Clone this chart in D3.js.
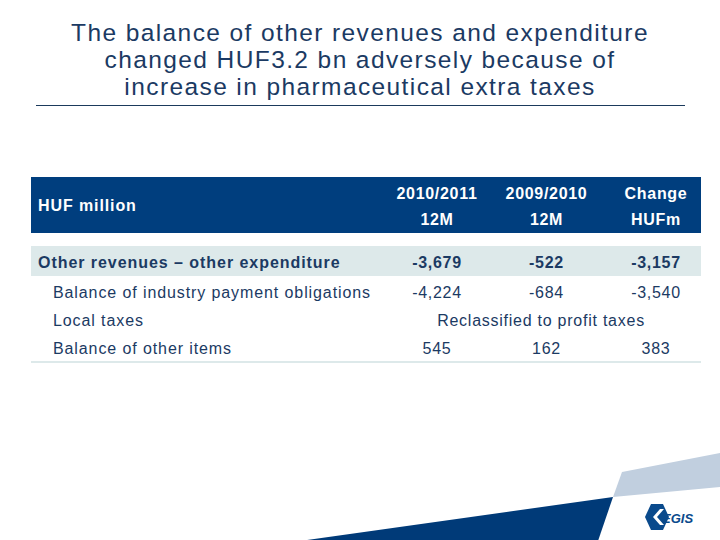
<!DOCTYPE html>
<html><head><meta charset="utf-8">
<script src="https://cdn.jsdelivr.net/npm/d3@7/dist/d3.min.js"></script>
<style>html,body{margin:0;padding:0;background:#fff}svg{display:block}</style>
</head><body>
<svg id="c" width="720" height="540"></svg>
<script>
const titleLines = ["The balance of other revenues and expenditure","changed HUF3.2 bn adversely because of","increase in pharmaceutical extra taxes"];
const headerLabel = "HUF million";
const columns = [["2010/2011","12M"],["2009/2010","12M"],["Change","HUFm"]];
const rowLabels = ["Other revenues – other expenditure","Balance of industry payment obligations","Local taxes","Balance of other items"];
const rowLevel = [0,1,1,1];
const col2011 = ["-3,679","-4,224",null,"545"];
const col2010 = ["-522","-684",null,"162"];
const colChange = ["-3,157","-3,540",null,"383"];
const spanNotes = [null,null,"Reclassified to profit taxes",null];

const svg = d3.select("#c");
const navy = "#1b3a63", band = "#003e7e", pale = "#dde9ea";
const font = "Liberation Sans, Arial, sans-serif";

// decorative background shapes
svg.append("polygon").attr("points","622,472 720,453 720,487 613,497").attr("fill","#c1cfdf");
svg.append("polygon").attr("points","300,541 613,497 598,541").attr("fill","#003a78");

// logo
const lg = svg.append("g").attr("transform","translate(645,504)");
lg.append("polygon").attr("points","6,0 18,0 24,13 18,26 6,26 0,13").attr("fill","#0a4a8c");
lg.append("polygon").attr("points","15,5 8,13 15,21 19,21 12,13 19,5").attr("fill","#fff");
lg.append("text").attr("x",17).attr("y",19).attr("font-family",font).attr("font-size",13)
  .attr("font-weight","bold").attr("font-style","italic").attr("fill","#0a4a8c").text("EGIS");

// title
svg.append("g").selectAll("text").data(titleLines).join("text")
  .attr("x",360).attr("y",(d,i)=>41+i*27).attr("text-anchor","middle")
  .attr("font-family",font).attr("font-size",24.5).attr("letter-spacing",1.4)
  .attr("fill",navy).text(d=>d);
svg.append("line").attr("x1",36).attr("x2",685).attr("y1",105.5).attr("y2",105.5)
  .attr("stroke","#1b3a5c").attr("stroke-width",1);

// table scales
const x = d3.scalePoint().domain(d3.range(columns.length)).range([437,656]);

// header
svg.append("rect").attr("x",31).attr("y",177).attr("width",670).attr("height",56).attr("fill",band);
svg.append("text").attr("x",38).attr("y",211).attr("font-family",font).attr("font-size",16)
  .attr("letter-spacing",0.9).attr("font-weight","bold").attr("fill","#fff").text(headerLabel);
const hg = svg.append("g").selectAll("g").data(columns).join("g");
hg.selectAll("text").data((d,i)=>d.map(t=>({t,i}))).join("text")
  .attr("x",d=>x(d.i)).attr("y",(d,j)=>199+j*26).attr("text-anchor","middle")
  .attr("font-family",font).attr("font-size",16).attr("letter-spacing",0.7)
  .attr("font-weight","bold").attr("fill","#fff")
  .text(d=>d.t);

// body
svg.append("rect").attr("x",31).attr("y",246).attr("width",670).attr("height",30).attr("fill",pale);
svg.append("rect").attr("x",31).attr("y",361).attr("width",670).attr("height",2).attr("fill",pale);

const rowY = d3.scaleOrdinal().domain(d3.range(rowLabels.length)).range([262,292,320,348]);
const rows = svg.append("g").selectAll("g").data(rowLabels).join("g")
  .attr("transform",(d,i)=>`translate(0,${rowY(i)})`);
rows.append("text").attr("x",(d,i)=>rowLevel[i]?53:38).attr("dy","0.35em")
  .attr("font-family",font).attr("font-size",16)
  .attr("letter-spacing",(d,i)=>rowLevel[i]?0.9:0.95)
  .attr("font-weight",(d,i)=>rowLevel[i]?"normal":"bold").attr("fill",navy).text(d=>d);
rows.each(function(d,i){
  const g = d3.select(this);
  const vals = [col2011[i],col2010[i],colChange[i]];
  if (spanNotes[i]) {
    g.append("text").attr("x",541).attr("dy","0.35em").attr("text-anchor","middle")
      .attr("font-family",font).attr("font-size",16).attr("letter-spacing",0.75)
      .attr("fill",navy).text(spanNotes[i]);
  } else {
    g.selectAll("text.v").data(vals).join("text").attr("class","v")
      .attr("x",(v,j)=>x(j)).attr("dy","0.35em").attr("text-anchor","middle")
      .attr("font-family",font).attr("font-size",16).attr("letter-spacing",0.7)
      .attr("font-weight",rowLevel[i]?"normal":"bold").attr("fill",navy).text(v=>v);
  }
});
</script>
</body></html>
